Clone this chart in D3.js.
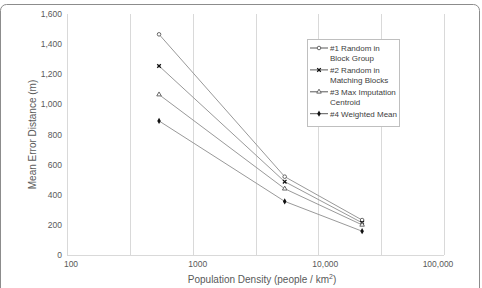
<!DOCTYPE html>
<html>
<head>
<meta charset="utf-8">
<script src="https://cdn.jsdelivr.net/npm/d3@7"></script>
<style>
  body { margin: 0; background: #fff; }
  svg text { font-family: "Liberation Sans", Arial, sans-serif; }
</style>
</head>
<body>
<svg id="chart" width="482" height="288"></svg>
<script>
// population density (x, log axis)
var densities = [540, 5400, 22300];

// mean error distance (m) for each method
var seriesNames = ["#1 Random in Block Group", "#2 Random in Matching Blocks", "#3 Max Imputation Centroid", "#4 Weighted Mean"];
var legendLines = [["#1 Random in", "Block Group"], ["#2 Random in", "Matching Blocks"], ["#3 Max Imputation", "Centroid"], ["#4 Weighted Mean"]];
var random1 = [1465, 520, 232];
var random2 = [1255, 487, 214];
var maxImp = [1065, 440, 200];
var weighted = [890, 356, 158];
var markers = ["circle", "cross", "triangle", "diamond"];

var xTicks = [100, 1000, 10000, 100000];
var xTickLabels = ["100", "1000", "10,000", "100,000"];
var yTicks = [0, 200, 400, 600, 800, 1000, 1200, 1400, 1600];

var svg = d3.select("#chart");
var width = +svg.attr("width"),
    height = +svg.attr("height");

// chart frame
svg.append("rect")
    .attr("x", 0.5).attr("y", 4.5)
    .attr("width", width - 3).attr("height", height + 10)
    .attr("rx", 6)
    .attr("fill", "#fff")
    .attr("stroke", "#8c8c8c");

var margin = {left: 67, right: 38, top: 14, bottom: 33};
var x = d3.scaleLog().domain([100, 100000]).range([margin.left, width - margin.right]);
var y = d3.scaleLinear().domain([0, 1600]).range([height - margin.bottom, margin.top]);

// vertical gridlines every half decade
var grid = d3.range(2, 5.01, 0.5).map(function(e) { return Math.pow(10, e); });
svg.append("g")
    .selectAll("line")
    .data(grid)
    .enter().append("line")
    .attr("x1", function(d) { return Math.round(x(d)) + 0.5; })
    .attr("x2", function(d) { return Math.round(x(d)) + 0.5; })
    .attr("y1", y(1600))
    .attr("y2", y(0))
    .attr("stroke", "#d9d9d9");

svg.append("line")
    .attr("x1", x(100)).attr("x2", x(100000))
    .attr("y1", Math.round(y(0)) + 0.5).attr("y2", Math.round(y(0)) + 0.5)
    .attr("stroke", "#d9d9d9");

// y axis labels
svg.append("g")
    .selectAll("text")
    .data(yTicks)
    .enter().append("text")
    .attr("x", 62)
    .attr("y", function(d) { return y(d) + 3; })
    .attr("text-anchor", "end")
    .attr("font-size", 8.5)
    .attr("fill", "#595959")
    .text(d3.format(","));

// x axis labels (Excel nudges them a little)
var nudge = [4, 5, 7, -6];
svg.append("g")
    .selectAll("text")
    .data(xTicks)
    .enter().append("text")
    .attr("x", function(d, i) { return x(d) + nudge[i]; })
    .attr("y", 267)
    .attr("text-anchor", "middle")
    .attr("font-size", 8.5)
    .attr("fill", "#595959")
    .text(function(d, i) { return xTickLabels[i]; });

// axis titles
svg.append("text")
    .attr("transform", "translate(36," + ((y(0) + y(1600)) / 2) + ") rotate(-90)")
    .attr("text-anchor", "middle")
    .attr("font-size", 10)
    .attr("fill", "#595959")
    .text("Mean Error Distance (m)");

var xt = svg.append("text")
    .attr("x", 262)
    .attr("y", 283)
    .attr("text-anchor", "middle")
    .attr("font-size", 10)
    .attr("fill", "#595959");
xt.append("tspan").text("Population Density (people / km");
xt.append("tspan").attr("font-size", 7).attr("dy", -4).text("2");
xt.append("tspan").attr("dy", 4).text(")");

// series
var series = [random1, random2, maxImp, weighted].map(function(vals, i) {
    return {name: seriesNames[i], marker: markers[i], points: vals.map(function(v, j) { return {x: densities[j], y: v}; })};
});

var line = d3.line()
    .x(function(d) { return x(d.x); })
    .y(function(d) { return y(d.y); });

function drawMarker(g, type) {
    if (type === "circle") {
        g.append("circle").attr("r", 1.8).attr("fill", "#fff").attr("stroke", "#595959").attr("stroke-width", 0.9);
    } else if (type === "cross") {
        g.append("path").attr("d", "M-1.8,-1.8L1.8,1.8M-1.8,1.8L1.8,-1.8").attr("stroke", "#111").attr("stroke-width", 1.3);
    } else if (type === "triangle") {
        g.append("path").attr("d", d3.symbol(d3.symbolTriangle, 9)).attr("fill", "#fff").attr("stroke", "#595959").attr("stroke-width", 0.9);
    } else {
        g.append("path").attr("d", d3.symbol(d3.symbolDiamond, 11)).attr("fill", "#111");
    }
}

var gSeries = svg.append("g");
series.forEach(function(s) {
    gSeries.append("path")
        .datum(s.points)
        .attr("d", line)
        .attr("fill", "none")
        .attr("stroke", "#999")
        .attr("stroke-width", 1);
    s.points.forEach(function(p) {
        var g = gSeries.append("g").attr("transform", "translate(" + x(p.x) + "," + y(p.y) + ")");
        drawMarker(g, s.marker);
    });
});

// legend
var legend = svg.append("g");
legend.append("rect")
    .attr("x", 307.5).attr("y", 39.5)
    .attr("width", 92).attr("height", 87)
    .attr("fill", "#fff")
    .attr("stroke", "#bfbfbf");

var rowY = 48;
series.forEach(function(s, i) {
    legend.append("line")
        .attr("x1", 310).attr("x2", 328)
        .attr("y1", rowY).attr("y2", rowY)
        .attr("stroke", "#595959");
    drawMarker(legend.append("g").attr("transform", "translate(319," + rowY + ")"), s.marker);
    legendLines[i].forEach(function(t, k) {
        legend.append("text")
            .attr("x", 330)
            .attr("y", rowY + 3 + k * 10.3)
            .attr("font-size", 8)
            .attr("fill", "#404040")
            .text(t);
    });
    rowY += legendLines[i].length * 10.3 + 1.3;
});
</script>
</body>
</html>
